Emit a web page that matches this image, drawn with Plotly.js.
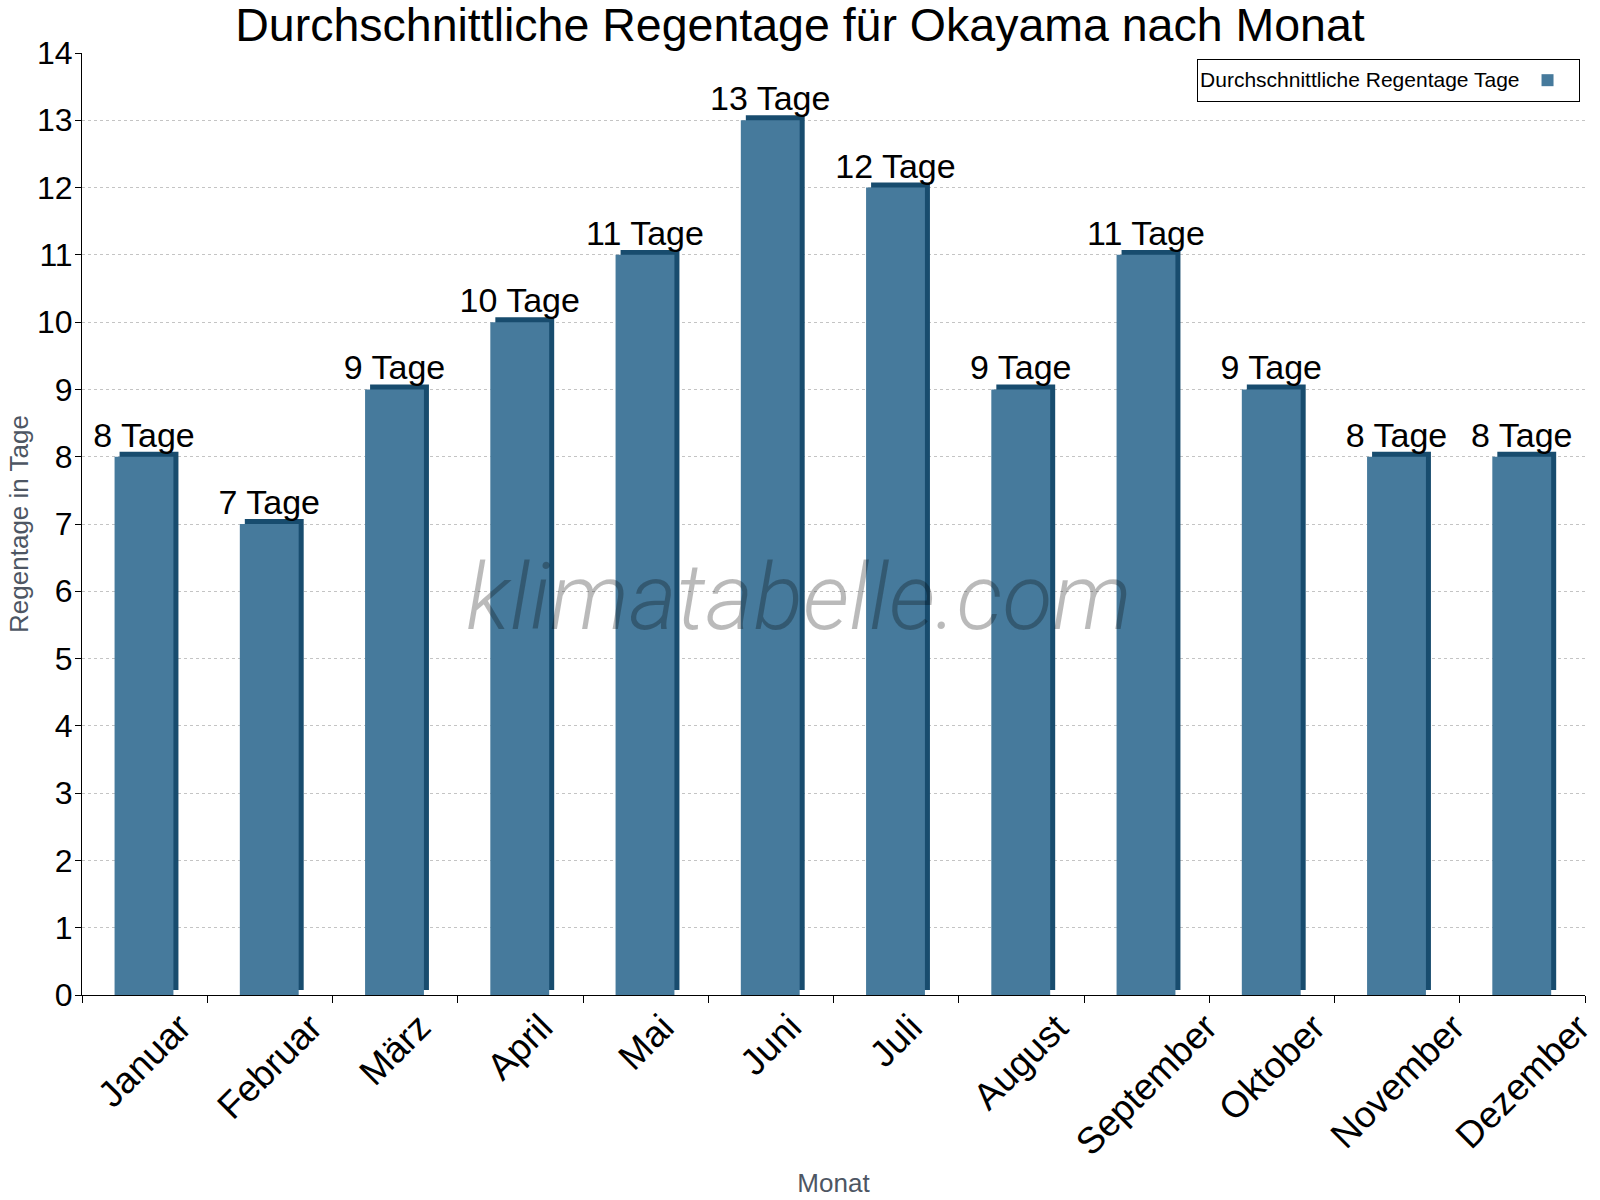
<!DOCTYPE html>
<html>
<head>
<meta charset="utf-8">
<script src="https://cdn.plot.ly/plotly-3.0.1.min.js"></script>
<style>
  body { margin: 0; background: #fff; }
  #chart { width: 1600px; height: 1200px; }
</style>
</head>
<body>
<div id="chart"></div>
<script>
// monthly average rain days, Okayama
const months = ["Januar", "Februar", "März", "April", "Mai", "Juni", "Juli",
                "August", "September", "Oktober", "November", "Dezember"];
const rainDays = [8, 7, 9, 10, 11, 13, 12, 9, 11, 9, 8, 8];
const labels = rainDays.map(v => v + " Tage");

const FONT = "Liberation Sans, Arial, sans-serif";

// dark side of the pseudo-3D bar, lifted a bit and shifted right so it peeks out
let side = {
  type: "bar",
  x: months,
  y: rainDays,
  base: 0.074,
  width: 0.47,
  offset: -0.2,
  marker: { color: "#184c6e" },
  showlegend: false,
  hoverinfo: "skip",
};

// front face with value labels
let front = {
  type: "bar",
  x: months,
  y: rainDays,
  width: 0.47,
  offset: -0.24,
  marker: { color: "#467a9c" },
  text: labels,
  textposition: "outside",
  constraintext: "none",
  cliponaxis: false,
  textfont: { family: FONT, size: 34, color: "#000" },
  name: " ",
};

// month labels: rotated, centred under each category (plotly's own tick labels anchor at the end)
let monthLabels = months.map(m => ({
  text: m,
  x: m,
  xref: "x",
  y: -0.009,
  yref: "paper",
  textangle: -45,
  xanchor: "center",
  yanchor: "top",
  showarrow: false,
  font: { family: FONT, size: 37, color: "#000" },
}));

let layout = {
  width: 1600,
  height: 1200,
  paper_bgcolor: "#fff",
  plot_bgcolor: "#fff",
  margin: { l: 82, r: 15, t: 53, b: 205 },
  barmode: "overlay",
  font: { family: FONT, color: "#000" },
  title: {
    text: "Durchschnittliche Regentage für Okayama nach Monat",
    font: { family: FONT, size: 46.5, color: "#000" },
    x: 0.5,
    xanchor: "center",
    y: 0.979,
    yanchor: "middle",
  },
  xaxis: {
    type: "category",
    range: [-0.5, months.length - 0.5],
    showline: true,
    linecolor: "#000",
    linewidth: 1,
    ticks: "outside",
    tickson: "boundaries",
    ticklen: 7,
    tickcolor: "#000",
    showticklabels: false,
    showgrid: false,
    title: { text: "Monat", font: { family: FONT, size: 26, color: "#4d5663" }, standoff: 178 },
  },
  yaxis: {
    range: [0, 14],
    dtick: 1,
    showline: true,
    linecolor: "#000",
    linewidth: 1,
    ticks: "outside",
    ticklen: 6,
    tickcolor: "#000",
    ticklabelstandoff: -4,
    tickfont: { family: FONT, size: 32, color: "#000" },
    showgrid: true,
    gridcolor: "#c4c4c4",
    griddash: "dot",
    gridwidth: 1,
    zeroline: false,
    title: { text: "Regentage in Tage", font: { family: FONT, size: 26, color: "#4d5663" }, standoff: 0 },
  },
  showlegend: true,
  legend: {
    x: 0.9967,
    xanchor: "right",
    y: 0.9936,
    yanchor: "top",
    bgcolor: "#fff",
    bordercolor: "#000",
    borderwidth: 1,
    font: { family: FONT, size: 21, color: "#000" },
    title: { text: "Durchschnittliche Regentage Tage", side: "left", font: { family: FONT, size: 21, color: "#000" } },
    itemwidth: 30,
  },
  annotations: [
    {
      text: "klimatabelle.com",
      xref: "paper",
      yref: "paper",
      x: 0.477,
      y: 0.4225,
      showarrow: false,
      font: { family: "Roboto, sans-serif", size: 92, style: "italic", weight: 300, color: "rgba(0,0,0,0.27)" },
    },
  ].concat(monthLabels),
};

Plotly.newPlot("chart", [side, front], layout, { displayModeBar: false, staticPlot: true });
</script>
</body>
</html>
